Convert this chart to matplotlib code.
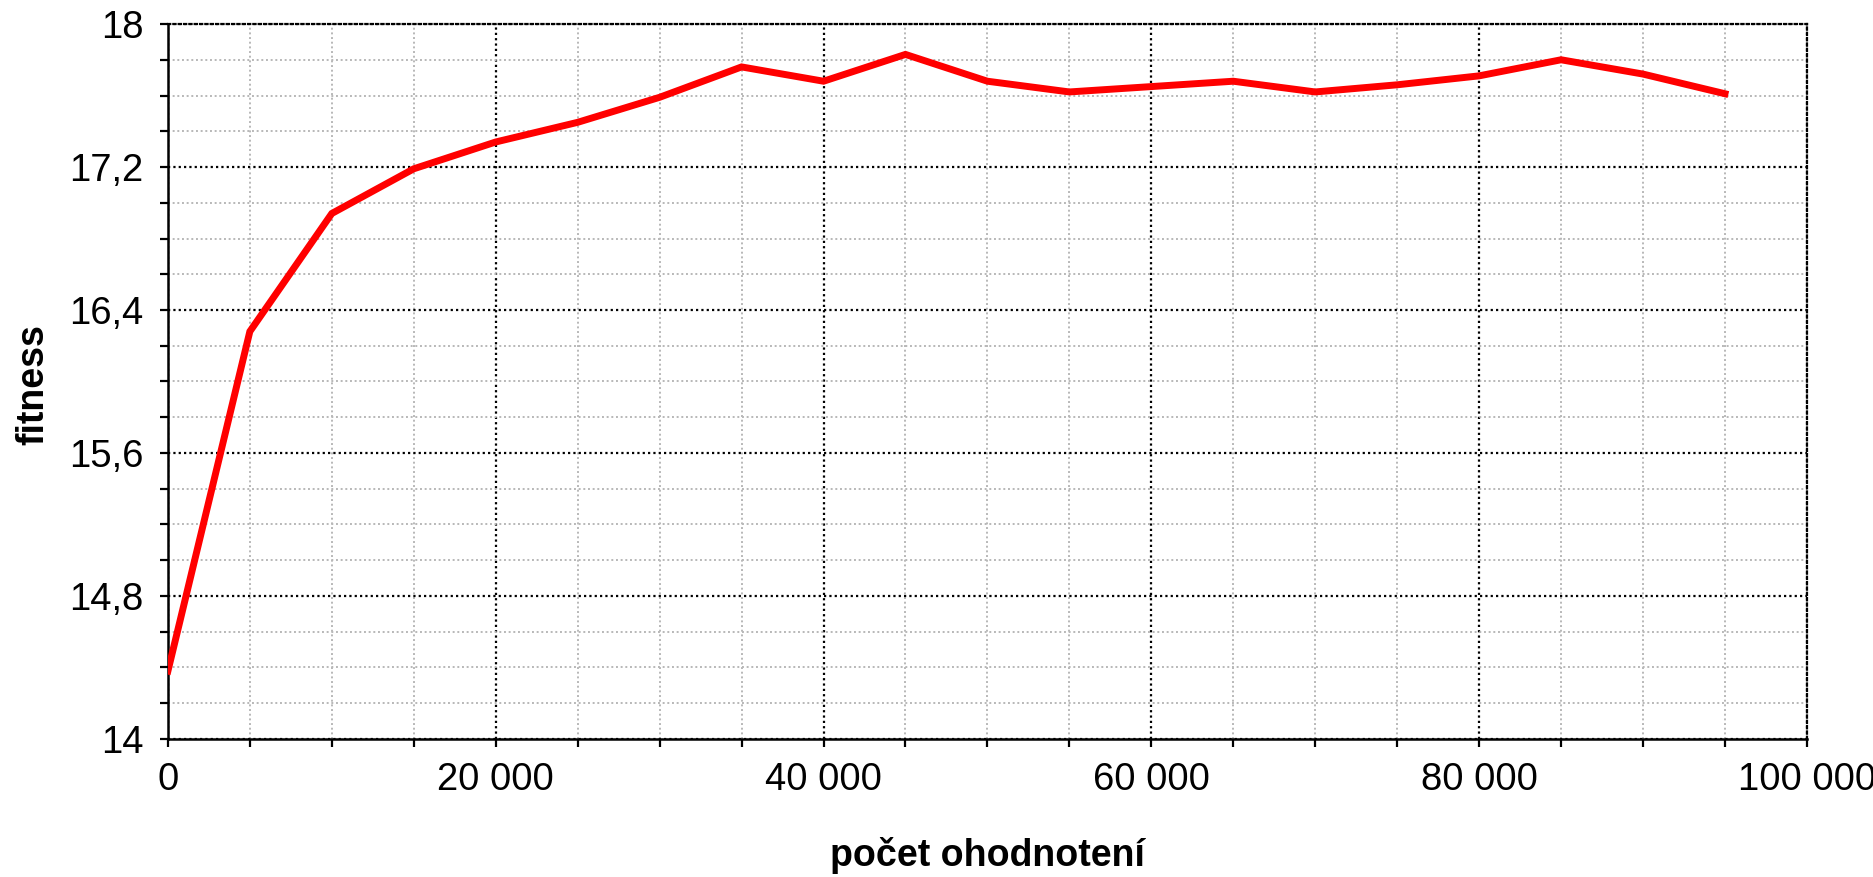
import matplotlib.pyplot as plt
from matplotlib.ticker import MultipleLocator, FuncFormatter

evaluations = [0, 5000, 10000, 15000, 20000, 25000, 30000, 35000, 40000, 45000,
               50000, 55000, 60000, 65000, 70000, 75000, 80000, 85000, 90000, 95000]
fitness = [14.38, 16.28, 16.94, 17.19, 17.34, 17.45, 17.59, 17.76, 17.68, 17.83,
           17.68, 17.62, 17.65, 17.68, 17.62, 17.66, 17.71, 17.80, 17.72, 17.61]
y_ticks = [14, 14.8, 15.6, 16.4, 17.2, 18]

plt.rcParams['font.family'] = ['Liberation Sans', 'DejaVu Sans']

fig = plt.figure(figsize=(18.74, 8.77), dpi=100)
ax = fig.add_axes([0.0896, 0.1574, 0.8746, 0.8152])

ax.plot(evaluations, fitness, color='#ff0000', lw=5, solid_joinstyle='miter', zorder=3)

ax.set_xlim(0, 100000)
ax.set_ylim(14, 18)
ax.xaxis.set_major_locator(MultipleLocator(20000))
ax.xaxis.set_minor_locator(MultipleLocator(5000))
ax.set_yticks(y_ticks)
ax.yaxis.set_minor_locator(MultipleLocator(0.2))
ax.xaxis.set_major_formatter(FuncFormatter(lambda v, p: f"{int(round(v)):,}".replace(",", " ")))
ax.yaxis.set_major_formatter(FuncFormatter(lambda v, p: f"{round(v, 1):g}".replace(".", ",")))

dots = (0, (1, 1.4))
ax.grid(which='major', color='black', linestyle=dots, lw=1.6)
ax.grid(which='minor', color='#b8b8b8', linestyle=dots, lw=1.4)
ax.set_axisbelow(True)

for s in ['left', 'bottom']:
    ax.spines[s].set_linewidth(1.8)
for s in ['top', 'right']:
    ax.spines[s].set_linestyle(dots)
    ax.spines[s].set_linewidth(1.6)

ax.tick_params(which='both', direction='out', length=5.5, width=1.6, labelsize=27.5)
ax.tick_params(axis='x', which='major', pad=11)
ax.tick_params(axis='y', which='major', pad=12)

fig.text(0.527, 0.0125, "počet ohodnotení", fontsize=27, fontweight='bold',
         ha='center', va='baseline')
fig.text(0.0176, 0.561, "fitness", fontsize=27, fontweight='bold',
         rotation=90, ha='center', va='center')

fig.savefig('out.png', dpi=100)
